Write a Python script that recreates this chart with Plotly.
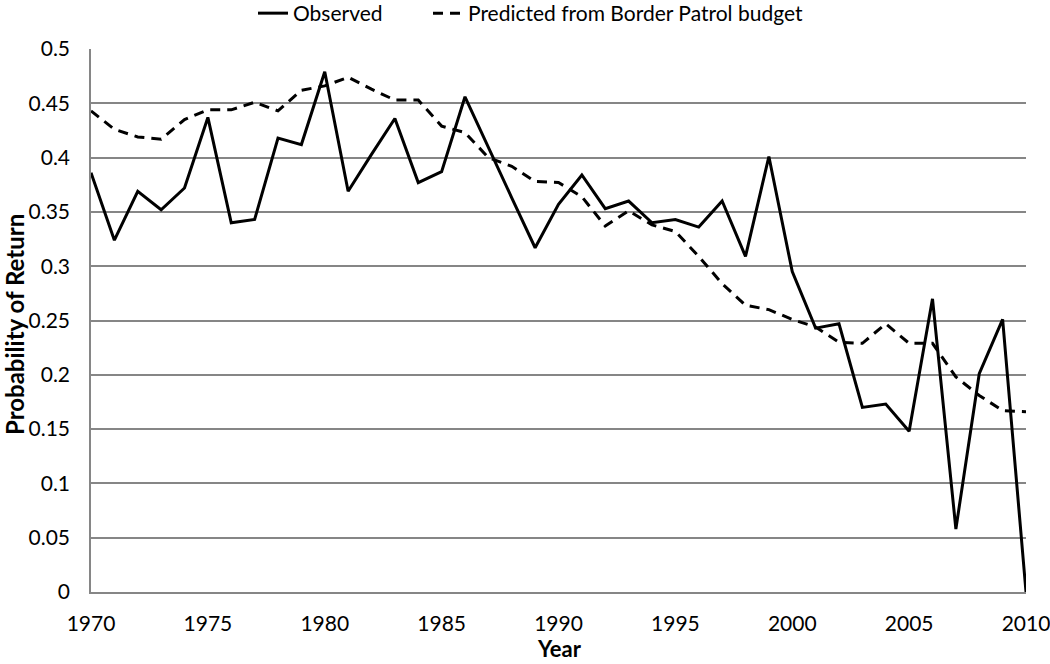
import plotly.graph_objects as go

# Values
years = list(range(1970, 2011))

observed = [
    0.386, 0.324, 0.369, 0.352, 0.372, 0.437, 0.340, 0.343, 0.418, 0.412,
    0.479, 0.369, 0.403, 0.436, 0.377, 0.387, 0.456, 0.409, 0.363, 0.317,
    0.357, 0.384, 0.353, 0.360, 0.340, 0.343, 0.336, 0.360, 0.309, 0.401,
    0.295, 0.243, 0.247, 0.170, 0.173, 0.148, 0.270, 0.058, 0.201, 0.251,
    0.000,
]

predicted = [
    0.443, 0.426, 0.419, 0.417, 0.435, 0.444, 0.444, 0.451, 0.443, 0.462,
    0.466, 0.474, 0.463, 0.453, 0.453, 0.429, 0.423, 0.400, 0.392, 0.378,
    0.377, 0.364, 0.337, 0.351, 0.338, 0.332, 0.309, 0.284, 0.264, 0.260,
    0.251, 0.244, 0.230, 0.229, 0.247, 0.229, 0.229, 0.198, 0.181, 0.167,
    0.166,
]

x_ticks = [1970, 1975, 1980, 1985, 1990, 1995, 2000, 2005, 2010]

FONT = "Lato, 'Open Sans', sans-serif"
GRID = "#868686"

W, H = 1050, 664
ML, MR, MT, MB = 91, 24, 49, 72
PW, PH = W - ML - MR, H - MT - MB


def paper_x(px):
    return (px - ML) / PW


def paper_y(py):
    return (H - MB - py) / PH


fig = go.Figure()

fig.add_trace(go.Scatter(
    x=years, y=observed, mode="lines", name="Observed",
    line=dict(color="black", width=3),
    legend="legend",
))
fig.add_trace(go.Scatter(
    x=years, y=predicted, mode="lines", name="Predicted from Border Patrol budget",
    line=dict(color="black", width=3, dash="10px,7px"),
    legend="legend2",
))

# axis titles as annotations so they can sit exactly where the original has them
fig.add_annotation(
    text="<b>Probability of Return</b>", textangle=-90,
    xref="paper", yref="paper",
    x=paper_x(14), y=paper_y(325),
    xanchor="center", yanchor="middle",
    showarrow=False, font=dict(size=24),
)
fig.add_annotation(
    text="<b>Year</b>",
    xref="paper", yref="paper",
    x=paper_x(559), y=paper_y(664),
    xanchor="center", yanchor="bottom",
    showarrow=False, font=dict(size=22),
)

# two one-entry legends so each entry can sit where the original puts it
legend_style = dict(
    orientation="h",
    yref="paper",
    y=paper_y(-7), yanchor="top", xanchor="left",
    font=dict(size=21),
    bgcolor="rgba(0,0,0,0)",
)

fig.update_layout(
    width=W,
    height=H,
    margin=dict(l=ML, r=MR, t=MT, b=MB, autoexpand=False),
    paper_bgcolor="white",
    plot_bgcolor="white",
    font=dict(family=FONT, size=21, color="black"),
    showlegend=True,
    legend=dict(x=paper_x(253), **legend_style),
    legend2=dict(x=paper_x(428), **legend_style),
    xaxis=dict(
        range=[1970, 2010],
        tickvals=x_ticks,
        showgrid=False,
        showline=True, linecolor=GRID, linewidth=1.5,
        ticks="", ticklabelstandoff=12,
        ticklabeloverflow="allow",
        zeroline=False,
    ),
    yaxis=dict(
        range=[0, 0.5],
        dtick=0.05,
        showgrid=True, gridcolor=GRID, gridwidth=1.5,
        showline=True, linecolor=GRID, linewidth=1.5,
        ticks="", ticklabelstandoff=15,
        zeroline=False,
    ),
)

# drop the default 8px body margin so the figure fills the window exactly
fig.write_html(
    "out.html",
    config={"displayModeBar": False},
    post_script="document.body.style.margin='0px';",
)
